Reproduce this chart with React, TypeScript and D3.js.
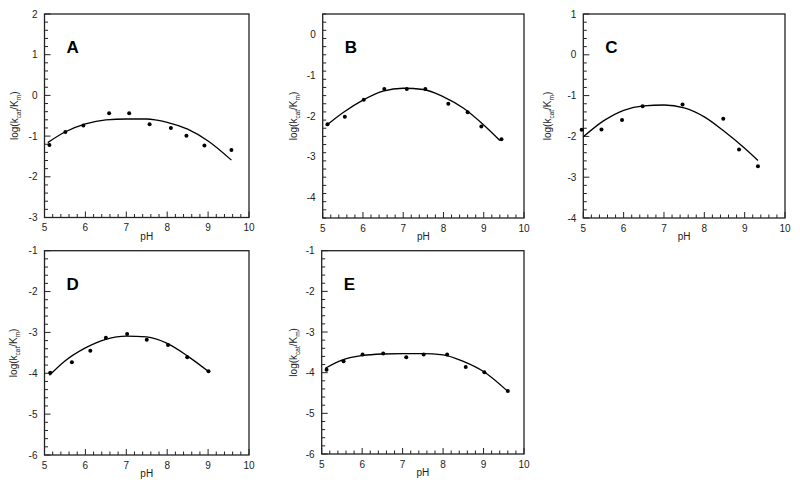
import React from "react";
import * as d3 from "d3";

// ---- data ----
const phA = [5.12, 5.51, 5.95, 6.58, 7.07, 7.57, 8.09, 8.47, 8.91, 9.57];
const valA = [-1.22, -0.9, -0.74, -0.44, -0.44, -0.71, -0.8, -0.99, -1.23, -1.34];
const fitPhA = [5.08, 5.5, 6.0, 6.5, 7.0, 7.5, 7.75, 8.0, 8.5, 9.0, 9.57];
const fitA = [-1.16, -0.9, -0.7, -0.6, -0.58, -0.58, -0.61, -0.66, -0.83, -1.12, -1.59];

const phB = [5.12, 5.55, 6.02, 6.53, 7.09, 7.55, 8.12, 8.6, 8.94, 9.44];
const valB = [-2.2, -2.02, -1.6, -1.34, -1.34, -1.34, -1.7, -1.91, -2.26, -2.57];
const fitPhB = [5.08, 5.5, 6.0, 6.5, 7.0, 7.5, 8.0, 8.5, 9.0, 9.4];
const fitB = [-2.24, -1.92, -1.61, -1.39, -1.32, -1.35, -1.53, -1.81, -2.22, -2.6];

const phC = [4.96, 5.45, 5.96, 6.47, 7.46, 8.47, 8.86, 9.33];
const valC = [-1.84, -1.83, -1.6, -1.26, -1.22, -1.57, -2.32, -2.73];
const fitPhC = [5.0, 5.5, 6.0, 6.5, 7.0, 7.5, 8.0, 8.5, 9.0, 9.33];
const fitC = [-2.01, -1.62, -1.36, -1.25, -1.23, -1.3, -1.52, -1.88, -2.29, -2.59];

const phD = [5.14, 5.67, 6.12, 6.5, 7.02, 7.5, 8.02, 8.49, 9.01];
const valD = [-3.99, -3.73, -3.45, -3.13, -3.04, -3.18, -3.31, -3.61, -3.95];
const fitPhD = [5.12, 5.5, 6.0, 6.5, 7.0, 7.5, 8.0, 8.5, 9.0];
const fitD = [-4.05, -3.7, -3.38, -3.17, -3.09, -3.11, -3.27, -3.58, -3.95];

const phE = [5.12, 5.54, 6.01, 6.52, 7.09, 7.52, 8.1, 8.56, 9.02, 9.6];
const valE = [-3.93, -3.72, -3.55, -3.53, -3.62, -3.55, -3.55, -3.86, -3.99, -4.45];
const fitPhE = [5.09, 5.5, 6.0, 6.5, 7.0, 7.5, 8.0, 8.5, 9.0, 9.6];
const fitE = [-3.89, -3.69, -3.58, -3.54, -3.53, -3.53, -3.56, -3.72, -3.97, -4.46];

const panelLabels = ["A", "B", "C", "D", "E"];
const xTickLabels = [5, 6, 7, 8, 9, 10];
const yDomains: [number, number][] = [
  [-3, 2],
  [-4.5, 0.5],
  [-4, 1],
  [-6, -1],
  [-6, -1],
];
const yTickLabelsList = [
  [-3, -2, -1, 0, 1, 2],
  [-4, -3, -2, -1, 0],
  [-4, -3, -2, -1, 0, 1],
  [-6, -5, -4, -3, -2, -1],
  [-6, -5, -4, -3, -2, -1],
];
const pointsPh = [phA, phB, phC, phD, phE];
const pointsVal = [valA, valB, valC, valD, valE];
const fitsPh = [fitPhA, fitPhB, fitPhC, fitPhD, fitPhE];
const fitsVal = [fitA, fitB, fitC, fitD, fitE];

// layout boxes (left, right, top, bottom) and y-label x position
const boxes = [
  { l: 44.5, r: 249, t: 14, b: 217.5, lx: 15 },
  { l: 322.7, r: 524, t: 14, b: 218, lx: 294 },
  { l: 583.3, r: 785, t: 14, b: 218, lx: 548 },
  { l: 44.5, r: 249, t: 250.7, b: 455, lx: 14 },
  { l: 321.7, r: 524, t: 250.7, b: 454, lx: 294 },
];

const FONT = "'Liberation Sans', Arial, Helvetica, sans-serif";

function Panel({ i }: { i: number }) {
  const box = boxes[i];
  const x = d3.scaleLinear().domain([5, 10]).range([box.l, box.r]);
  const y = d3.scaleLinear().domain(yDomains[i]).range([box.b, box.t]);
  const [y0, y1] = yDomains[i];
  const xMinor = d3.range(0, 26).map((k) => 5 + k * 0.2);
  const yMinor = d3.range(0, Math.round((y1 - y0) / 0.2) + 1).map((k) => y0 + k * 0.2);
  const isMajor = (v: number) => Math.abs(v - Math.round(v)) < 1e-6;
  const line = d3
    .line<number>()
    .x((_, k) => x(fitsPh[i][k]))
    .y((d) => y(d))
    .curve(d3.curveMonotoneX);
  const yc = (box.t + box.b) / 2;
  return (
    <g>
      {xMinor.map((v, k) => (
        <line
          key={"xt" + k}
          x1={x(v)}
          x2={x(v)}
          y1={box.b}
          y2={box.b - (isMajor(v) ? 6 : 3.5)}
          stroke="#222"
          strokeWidth={1}
        />
      ))}
      {yMinor.map((v, k) => (
        <line
          key={"yt" + k}
          x1={box.l}
          x2={box.l + (isMajor(v) ? 6 : 3.5)}
          y1={y(v)}
          y2={y(v)}
          stroke="#222"
          strokeWidth={1}
        />
      ))}
      <rect
        x={box.l}
        y={box.t}
        width={box.r - box.l}
        height={box.b - box.t}
        fill="none"
        stroke="#222"
        strokeWidth={1.3}
      />
      {xTickLabels.map((v) => (
        <text
          key={"xl" + v}
          x={x(v)}
          y={box.b + 13.5}
          textAnchor="middle"
          fontSize={10}
          fontFamily={FONT}
          fill="#222"
        >
          {v}
        </text>
      ))}
      {yTickLabelsList[i].map((v) => (
        <text
          key={"yl" + v}
          x={box.l - 7}
          y={y(v) + 3.5}
          textAnchor="end"
          fontSize={10}
          fontFamily={FONT}
          fill="#222"
        >
          {v}
        </text>
      ))}
      <text
        x={(box.l + box.r) / 2}
        y={box.b + 22}
        textAnchor="middle"
        fontSize={10}
        fontFamily={FONT}
        fill="#222"
      >
        pH
      </text>
      <text
        transform={`translate(${box.lx + 3},${yc}) rotate(-90)`}
        textAnchor="middle"
        fontSize={10}
        fontFamily={FONT}
        fill="#222"
      >
        log(k
        <tspan fontSize={6.5} dy={2.5}>cat</tspan>
        <tspan dy={-2.5}>/K</tspan>
        <tspan fontSize={6.5} dy={2.5}>m</tspan>
        <tspan dy={-2.5}>)</tspan>
      </text>
      <text
        x={box.l + 22}
        y={box.t + 39}
        fontSize={17}
        fontWeight="bold"
        fontFamily={FONT}
        fill="#000"
      >
        {panelLabels[i]}
      </text>
      <path d={line(fitsVal[i]) || ""} fill="none" stroke="#000" strokeWidth={1.3} />
      {pointsPh[i].map((p, k) => (
        <circle key={"pt" + k} cx={x(p)} cy={y(pointsVal[i][k])} r={2} fill="#000" />
      ))}
    </g>
  );
}

export default function App() {
  return (
    <svg
      width={800}
      height={484}
      style={{ position: "absolute", left: 0, top: 0, background: "#fff" }}
    >
      <rect x={0} y={0} width={800} height={484} fill="#fff" />
      {[0, 1, 2, 3, 4].map((i) => (
        <Panel key={i} i={i} />
      ))}
    </svg>
  );
}
